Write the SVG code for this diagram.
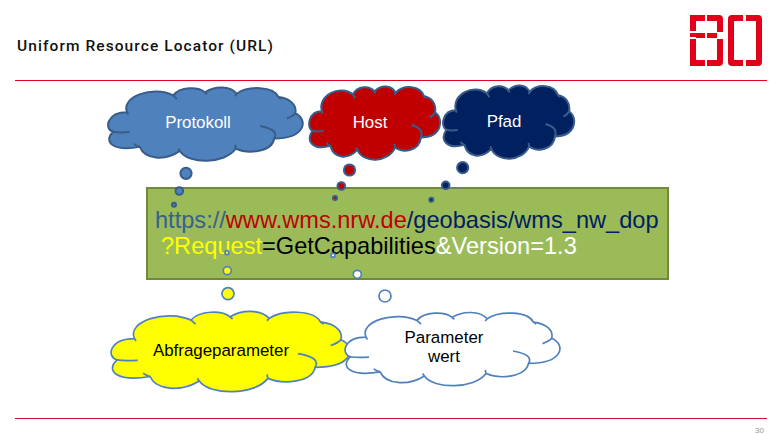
<svg xmlns="http://www.w3.org/2000/svg" xmlns:xlink="http://www.w3.org/1999/xlink" width="782" height="434" viewBox="0 0 782 434">
<style>
.cl{vector-effect:non-scaling-stroke;stroke-linejoin:round}
.hk{vector-effect:non-scaling-stroke;fill:none}
.t{font-family:"Liberation Sans",Arial,sans-serif}
.lbl{font-size:16.9px;text-anchor:middle}
.url{font-size:23.6px}
.dark{fill:#FFFFFF;stroke:none}
.blue{stroke:#385D8A;stroke-width:2}
.lite{stroke:#4F81BD;stroke-width:1.7}
.logo{fill:#E2001A}
</style>
<defs>
<g id="cloud">
<path class="cl" d="M57,72C38,25 135,-8 195,22C215,-5 270,-5 290,13C320,-7 365,-7 385,17C420,-8 495,-5 510,27C545,32 565,50 560,75C600,95 590,150 497,150C490,190 420,198 382,180C350,227 240,227 215,187C170,218 110,212 95,175C15,190 -15,160 15,130C-12,122 -4,72 57,72Z"/>
<path class="hk" d="M15,130C30,133 50,132 65,131M95,175C88,173 82,170 78,166M215,187L210,180M382,180L380,169M497,150C508,130 490,120 455,113M560,75C555,82 545,87 535,91M510,27L518,33M57,72L61,79M195,22L206,33M290,13L296,19M385,17L380,24"/>
</g>
</defs>

<rect width="782" height="434" fill="#FFFFFF"/>
<text class="t" x="17" y="51" style="font-family:Roboto,sans-serif;font-weight:500;letter-spacing:1.08px" font-size="15.5" fill="#111111">Uniform Resource Locator (URL)</text>
<g id="logo" class="logo">
<path d="M690,15H705V21H696V31H690Z"/>
<path d="M707,15H719Q723,15 723,19V32H717V21H707Z"/>
<path d="M690,33H705V38H696V37H690Z"/>
<path d="M707,33H717V38H707Z"/>
<path d="M690,39H696V60H705V66H690Z"/>
<path d="M717,39H723V62Q723,66 719,66H707V60H717Z"/>
<path d="M728,19Q728,15 732,15H743V21H734V60H743V66H732Q728,66 728,62Z"/>
<path d="M746,15H758Q762,15 762,19V62Q762,66 758,66H746V60H756V21H746Z"/>
</g>
<line x1="15" y1="80.5" x2="767" y2="80.5" stroke="#E2001A" stroke-width="1"/>
<line x1="15" y1="418.5" x2="767" y2="418.5" stroke="#C8102E" stroke-width="1"/>
<text class="t" x="764" y="433" font-size="8" fill="#999999" text-anchor="end">30</text>

<g id="url-box">
<rect x="147" y="188" width="521" height="91" fill="#9BBB59" stroke="#71893F" stroke-width="2"/>
<text class="t url" x="155" y="228"><tspan fill="#376092">https://</tspan><tspan fill="#C00000">www.wms.nrw.de</tspan><tspan fill="#002060">/geobasis/wms_nw_dop</tspan></text>
<text class="t url" x="161" y="254"><tspan fill="#FFFF00">?Request</tspan><tspan fill="#000000">=GetCapabilities</tspan><tspan fill="#FFFFFF">&amp;Version=1.3</tspan></text>
</g>

<g id="connectors">
<g fill="#4F81BD" class="blue"><circle cx="186" cy="173.3" r="5.6"/><circle cx="179.3" cy="191" r="3.8"/><circle cx="174" cy="204.7" r="2"/></g>
<g fill="#C00000" class="blue"><circle cx="349.5" cy="170" r="5.6"/><circle cx="341.3" cy="186" r="3.8"/><circle cx="335" cy="198" r="2"/></g>
<g fill="#002060" class="blue"><circle cx="462.7" cy="167.7" r="5.6"/><circle cx="445.7" cy="185.3" r="3.8"/><circle cx="431.3" cy="199.7" r="2"/></g>
<g fill="#FFFF00" class="lite"><circle cx="228" cy="293.7" r="6"/><circle cx="227.3" cy="270.7" r="4"/><circle cx="227" cy="252.7" r="2"/></g>
<g fill="#FFFFFF" class="lite"><circle cx="385" cy="296" r="6"/><circle cx="357.3" cy="274.3" r="4"/><circle cx="333" cy="255.3" r="2"/></g>
</g>

<g id="protokoll">
<use xlink:href="#cloud" href="#cloud" transform="translate(108,88) scale(.3345,.3364)" fill="#4F81BD" stroke="#385D8A" stroke-width="2"/>
<text class="t lbl dark" x="198" y="128">Protokoll</text>
</g>
<g id="host">
<use xlink:href="#cloud" href="#cloud" transform="translate(309,87) scale(.2253,.3364)" fill="#C00000" stroke="#385D8A" stroke-width="2"/>
<text class="t lbl dark" x="370" y="128">Host</text>
</g>
<g id="pfad">
<use xlink:href="#cloud" href="#cloud" transform="translate(443,86) scale(.2253,.3364)" fill="#002060" stroke="#385D8A" stroke-width="2"/>
<text class="t lbl dark" x="504" y="126.5">Pfad</text>
</g>
<g id="abfrageparameter">
<use xlink:href="#cloud" href="#cloud" transform="translate(111,312) scale(.4107,.3687)" fill="#FFFF00" stroke="#4F81BD" stroke-width="1.7"/>
<text class="t lbl" x="221" y="356" fill="#000000">Abfrageparameter</text>
</g>
<g id="parameterwert">
<use xlink:href="#cloud" href="#cloud" transform="translate(345,313) scale(.3692,.3364)" fill="#FFFFFF" stroke="#4F81BD" stroke-width="1.7"/>
<text class="t lbl" x="444" y="343" fill="#000000">Parameter</text>
<text class="t lbl" x="444" y="362" fill="#000000">wert</text>
</g>
</svg>
